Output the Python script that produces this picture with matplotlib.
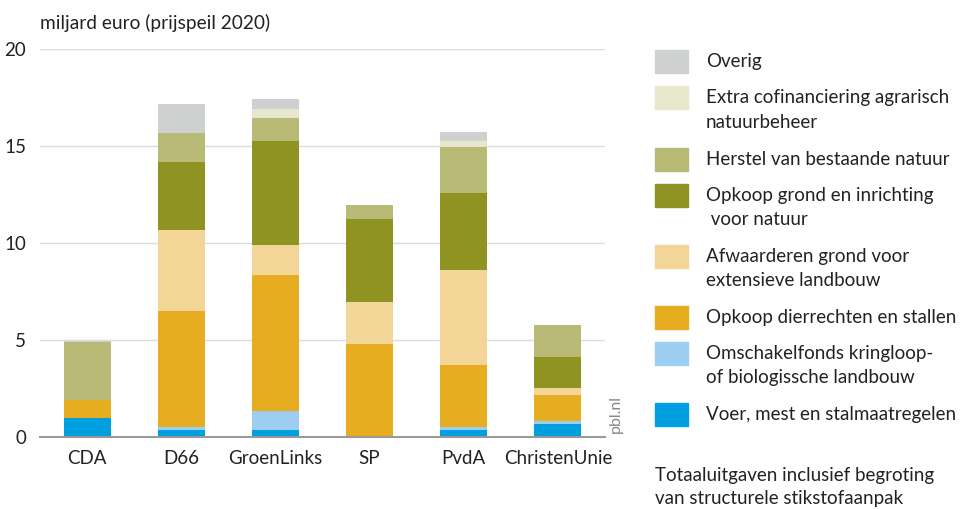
import matplotlib
matplotlib.use('Agg')

import numpy as np
import matplotlib.pyplot as plt

# data (miljard euro)
parties = ['CDA', 'D66', 'GroenLinks', 'SP', 'PvdA', 'ChristenUnie']

voer = [1.00, 0.38, 0.38, 0.00, 0.38, 0.69]
omschakel = [0.00, 0.15, 0.98, 0.00, 0.15, 0.15]
opkoop_dier = [0.92, 5.94, 6.99, 4.78, 3.20, 1.34]
afwaarderen = [0.00, 4.18, 1.56, 2.18, 4.88, 0.36]
opkoop_grond = [0.00, 3.50, 5.33, 4.26, 3.95, 1.56]
herstel = [3.00, 1.50, 1.19, 0.76, 2.41, 1.69]
extra = [0.00, 0.00, 0.50, 0.00, 0.29, 0.00]
overig = [0.05, 1.51, 0.51, 0.00, 0.48, 0.00]

series = [voer, omschakel, opkoop_dier, afwaarderen, opkoop_grond,
          herstel, extra, overig]
labels = ['Voer, mest en stalmaatregelen',
          'Omschakelfonds kringloop-\nof biologissche landbouw',
          'Opkoop dierrechten en stallen',
          'Afwaarderen grond voor\nextensieve landbouw',
          'Opkoop grond en inrichting\n voor natuur',
          'Herstel van bestaande natuur',
          'Extra cofinanciering agrarisch\nnatuurbeheer',
          'Overig']
colors = ['#009fdf', '#9dcdf0', '#e5ad1f', '#f2d597',
          '#8e9322', '#b8ba76', '#e6e7cc', '#cfd0d0']

plt.rcParams['font.family'] = ['Lato', 'DejaVu Sans']
textcol = '#222222'

fig = plt.figure(figsize=(9.65, 5.09), dpi=100)
ax = fig.add_axes([40 / 965, 1 - 437 / 509, 565 / 965, 388 / 509])

x = np.arange(len(parties))
bottom = np.zeros(len(parties))
for vals, col in zip(series, colors):
    ax.bar(x, vals, width=0.5, bottom=bottom, color=col, linewidth=0, zorder=3)
    bottom += np.array(vals)

ax.set_xlim(-0.5, len(parties) - 0.5)
ax.set_ylim(0, 20)
ax.set_yticks([0, 5, 10, 15, 20])
ax.set_xticks(x)
ax.set_xticklabels(parties)
ax.grid(axis='y', color='#dcdcdc', linewidth=1, zorder=0)
for s in ['left', 'right', 'top']:
    ax.spines[s].set_visible(False)
ax.spines['bottom'].set_color('#999999')
ax.spines['bottom'].set_linewidth(1.5)
ax.spines['bottom'].set_zorder(4)
ax.tick_params(axis='both', length=0, labelsize=13.5, colors=textcol)
ax.tick_params(axis='y', pad=10)
ax.tick_params(axis='x', pad=9)

fig.text(40 / 965, 1 - 23 / 509, 'miljard euro (prijspeil 2020)',
         fontsize=13.8, color=textcol, va='center', ha='left')
fig.text(616 / 965, 1 - 433 / 509, 'pbl.nl', rotation=90, fontsize=11.5,
         color='#888888', ha='center', va='bottom')

# legend drawn by hand, top item is the last series
ypos = [414, 353, 317, 256, 195, 159, 97.5, 61.3]
for lab, col, yc in zip(labels, colors, ypos):
    fig.patches.append(plt.Rectangle((655 / 965, 1 - (yc + 11.5) / 509),
                                     33 / 965, 23 / 509, color=col,
                                     transform=fig.transFigure, figure=fig))
    fig.text(706 / 965, 1 - (yc - 8) / 509, lab, fontsize=13.5,
             color=textcol, va='top', ha='left', linespacing=1.5)

fig.text(655 / 965, 1 - 467 / 509,
         'Totaaluitgaven inclusief begroting\nvan structurele stikstofaanpak',
         fontsize=13.5, color=textcol, va='top', ha='left', linespacing=1.4)

plt.savefig('out.png', dpi=100)
plt.close(fig)
